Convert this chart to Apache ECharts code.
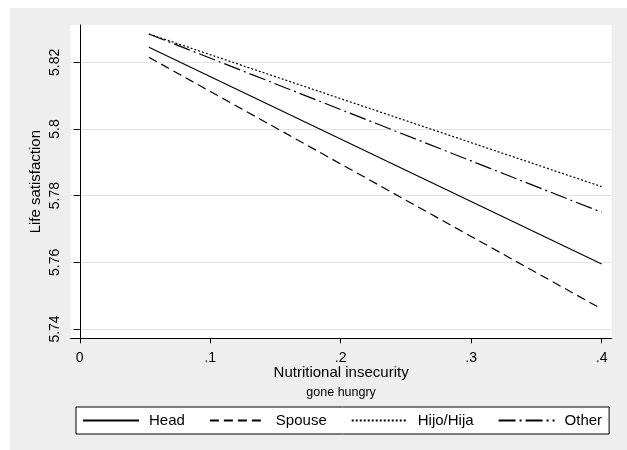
<!DOCTYPE html>
<html>
<head>
<meta charset="utf-8">
<script src="https://cdn.jsdelivr.net/npm/echarts@6/dist/echarts.min.js"></script>
<style>
  html, body { margin: 0; padding: 0; background: #fff; }
  #chart { width: 627px; height: 450px; }
</style>
</head>
<body>
<div id="chart"></div>
<script>
// predicted life satisfaction by nutritional insecurity, per household role
const xVals = [0.053, 0.4];
const head = [5.8245, 5.7595];
const spouse = [5.8215, 5.746];
const hijo = [5.8285, 5.7827];
const other = [5.8285, 5.775];
const seriesNames = ['Head', 'Spouse', 'Hijo/Hija', 'Other'];
const xTicks = [0, 0.1, 0.2, 0.3, 0.4];
const xTickLabels = ['0', '.1', '.2', '.3', '.4'];
const yTicks = [5.74, 5.76, 5.78, 5.8, 5.82];
const yTickLabels = ['5.74', '5.76', '5.78', '5.8', '5.82'];

const font = '"Liberation Sans", Arial, sans-serif';
const dashes = {
    'Head': 'solid',
    'Spouse': [9, 5],
    'Hijo/Hija': [2, 2],
    'Other': [17, 4, 2, 4]
};

function pairs(ys) {
    return xVals.map((x, i) => [x, ys[i]]);
}

const chart = echarts.init(document.getElementById('chart'));
const option = {
    animation: false,
    backgroundColor: '#fff',
    textStyle: { fontFamily: font, color: '#000' },
    graphic: [{
        type: 'rect',
        z: -10,
        shape: { x: 10, y: 8, width: 617, height: 442 },
        style: { fill: '#eeeeee' }
    }],
    grid: {
        left: 70.5, right: 15.3, top: 25, bottom: 111.7,
        show: true, backgroundColor: '#fff', borderWidth: 0
    },
    legend: {
        data: seriesNames,
        left: 76, top: 407,
        padding: [6, 7, 6, 6],
        itemGap: 24,
        itemWidth: 56,
        itemHeight: 14,
        itemStyle: { opacity: 0 },
        backgroundColor: '#fff',
        borderColor: '#000',
        borderWidth: 1,
        borderRadius: 0,
        textStyle: { fontFamily: font, fontSize: 15, color: '#000', padding: [0, 0, 0, 5] }
    },
    xAxis: {
        type: 'value',
        min: -0.0071,
        max: 0.4077,
        name: '{a|Nutritional insecurity}\n{b|gone hungry}',
        nameLocation: 'middle',
        nameMoveOverlap: false,
        nameGap: 25,
        nameTextStyle: {
            rich: {
                a: { fontFamily: font, fontSize: 15, color: '#000', lineHeight: 20, align: 'center' },
                b: { fontFamily: font, fontSize: 12.5, color: '#000', lineHeight: 18, align: 'center' }
            }
        },
        axisLine: { lineStyle: { color: '#000', width: 1 } },
        axisTick: { length: 5, lineStyle: { color: '#000' }, customValues: xTicks },
        axisLabel: {
            customValues: xTicks,
            margin: 13,
            fontFamily: font, fontSize: 14, color: '#000',
            formatter: v => xTickLabels[xTicks.findIndex(t => Math.abs(t - v) < 1e-9)]
        },
        splitLine: { show: false }
    },
    yAxis: {
        type: 'value',
        min: 5.7372,
        max: 5.8312,
        name: 'Life satisfaction',
        nameLocation: 'middle',
        nameMoveOverlap: false,
        nameGap: 27,
        nameTextStyle: { fontFamily: font, fontSize: 15, color: '#000' },
        axisLine: { show: true, lineStyle: { color: '#000', width: 1 } },
        axisTick: { show: true, length: 6, lineStyle: { color: '#000' }, customValues: yTicks },
        axisLabel: {
            customValues: yTicks,
            rotate: 90,
            margin: 8,
            fontFamily: font, fontSize: 14, color: '#000',
            formatter: v => yTickLabels[yTicks.findIndex(t => Math.abs(t - v) < 1e-9)]
        },
        splitLine: { show: true, lineStyle: { color: '#e4e4e4', width: 1 } }
    },
    series: [
        { name: 'Head', data: pairs(head) },
        { name: 'Spouse', data: pairs(spouse) },
        { name: 'Hijo/Hija', data: pairs(hijo) },
        { name: 'Other', data: pairs(other) }
    ].map(s => ({
        name: s.name,
        type: 'line',
        data: s.data,
        symbol: 'none',
        itemStyle: { color: '#000' },
        lineStyle: { color: '#000', width: 1.2, type: dashes[s.name] }
    }))
};
chart.setOption(option);
</script>
</body>
</html>
